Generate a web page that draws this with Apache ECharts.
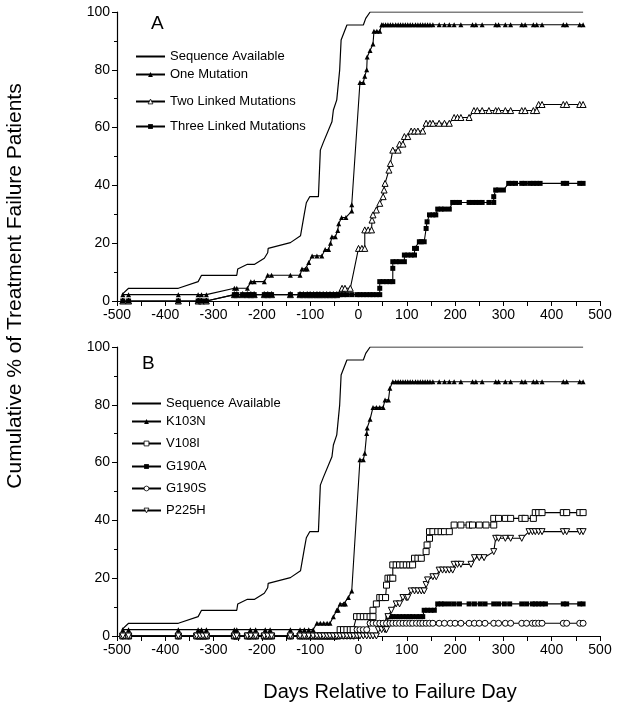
<!DOCTYPE html>
<html>
<head>
<meta charset="utf-8">
<script src="https://cdn.jsdelivr.net/npm/echarts@6/dist/echarts.min.js"></script>
<style>
html,body{margin:0;padding:0;background:#fff;}
#chart{width:618px;height:710px;}
</style>
</head>
<body>
<div id="chart"></div>
<script>
// ---------- DATA ----------
const xTicks = [-500, -400, -300, -200, -100, 0, 100, 200, 300, 400, 500];
const yTicks = [0, 20, 40, 60, 80, 100];

const seqAvail = [[-490,2.2],[-476,4.4],[-373,4.4],[-332,6.7],[-325,8.9],[-252,8.9],[-250,11.1],[-230,12.7],[-215,12.7],[-195,14.8],[-188,16.7],[-187,18.2],[-141,20.2],[-120,22.6],[-112,30.3],[-108,34],[-101,36.1],[-83,36.1],[-79,52.2],[-73,54.8],[-55,62],[-52,66.1],[-45,69.6],[-39,79.9],[-36,90.3],[-24,95.5],[10,95.5],[15,97.8],[24,100],[465,100]];

// Panel A
const oneMutation = [[-488,2.2],[-476,2.2],[-373,2.2],[-332,2.2],[-325,2.2],[-315,2.2],[-257,4.4],[-252,4.4],[-230,4.4],[-223,6.7],[-216,6.7],[-195,6.7],[-188,8.9],[-180,8.9],[-141,8.9],[-121,8.9],[-117,11.1],[-110,11.1],[-106,11.1],[-103,13.3],[-96,15.6],[-86,15.6],[-76,15.6],[-69,17.8],[-62,17.8],[-58,20],[-55,22.2],[-48,22.2],[-43,24.4],[-41,26.7],[-35,28.9],[-26,28.9],[-14,31.1],[-14,33.3],[3,75.6],[10,75.6],[13,77.8],[17,80],[18,84.4],[24,86.7],[30,88.9],[32,93.3],[38,93.3],[44,93.3],[48,95.6],[51,95.6],[56,95.6],[61,95.6],[66,95.6],[71,95.6],[77,95.6],[82,95.6],[87,95.6],[92,95.6],[97,95.6],[102,95.6],[107,95.6],[112,95.6],[118,95.6],[123,95.6],[128,95.6],[133,95.6],[138,95.6],[143,95.6],[148,95.6],[154,95.6],[167,95.6],[178,95.6],[188,95.6],[198,95.6],[212,95.6],[236,95.6],[243,95.6],[256,95.6],[284,95.6],[290,95.6],[304,95.6],[315,95.6],[338,95.6],[345,95.6],[362,95.6],[369,95.6],[380,95.6],[424,95.6],[431,95.6],[458,95.6],[465,95.6]];

const twoLinked = [[-488,0],[-476,0],[-373,0],[-332,0],[-325,0],[-315,0],[-257,2.2],[-252,2.2],[-240,2.2],[-230,2.2],[-223,2.2],[-216,2.2],[-195,2.2],[-188,2.2],[-180,2.2],[-141,2.2],[-121,2.2],[-114,2.2],[-106,2.2],[-100,2.2],[-93,2.2],[-86,2.2],[-80,2.2],[-73,2.2],[-66,2.2],[-59,2.2],[-52,2.2],[-45,2.2],[-34,4.4],[-28,4.4],[-17,4.4],[0,18.2],[7,18.2],[13,18.2],[13,24.6],[20,24.6],[27,24.6],[28,28],[30,29.8],[37,31.5],[44,33.8],[51,36.1],[53,38.4],[55,40.7],[63,45.3],[66,47.6],[71,52.2],[82,52.2],[85,54.3],[92,54.3],[95,56.9],[102,56.9],[109,58.8],[116,58.8],[123,58.8],[133,58.8],[140,61.5],[148,61.5],[154,61.5],[167,61.5],[178,61.5],[188,61.5],[198,63.5],[205,63.5],[212,63.5],[229,63.5],[239,65.9],[246,65.9],[256,65.9],[270,65.9],[284,65.9],[290,65.9],[304,65.9],[315,65.9],[338,65.9],[345,65.9],[362,65.9],[369,65.9],[373,68],[380,68],[424,68],[431,68],[458,68],[465,68]];

const threeLinked = [[-488,0],[-476,0],[-373,0],[-332,0],[-325,0],[-315,0],[-257,2.2],[-252,2.2],[-240,2.2],[-230,2.2],[-223,2.2],[-216,2.2],[-195,2.2],[-188,2.2],[-180,2.2],[-141,2.2],[-121,2.2],[-114,2.2],[-106,2.2],[-100,2.2],[-93,2.2],[-86,2.2],[-80,2.2],[-73,2.2],[-66,2.2],[-59,2.2],[-52,2.2],[-45,2.2],[-38,2.2],[-31,2.2],[-24,2.2],[-14,2.2],[-3,2.2],[3,2.2],[10,2.2],[17,2.2],[24,2.2],[30,2.2],[37,2.2],[44,2.2],[44,4.4],[44,6.7],[51,6.7],[58,6.7],[65,6.7],[71,6.7],[71,11.3],[71,13.6],[78,13.6],[85,13.6],[95,13.6],[95,15.9],[102,15.9],[109,15.9],[116,15.9],[116,18.2],[120,18.2],[126,20.5],[130,20.5],[136,20.5],[140,25.1],[142,27.4],[147,29.8],[154,29.8],[160,29.8],[164,31.8],[171,31.8],[178,31.8],[188,31.8],[195,34.1],[202,34.1],[209,34.1],[229,34.1],[236,34.1],[243,34.1],[250,34.1],[256,34.1],[270,34.1],[280,34.1],[280,36.1],[284,38.4],[290,38.4],[300,38.4],[311,40.7],[318,40.7],[325,40.7],[338,40.7],[345,40.7],[355,40.7],[362,40.7],[369,40.7],[376,40.7],[424,40.7],[431,40.7],[458,40.7],[465,40.7]];

// Panel B
const k103n = [[-488,2.2],[-476,2.2],[-373,2.2],[-332,2.2],[-325,2.2],[-315,2.2],[-257,2.2],[-252,2.2],[-224,2.2],[-213,2.2],[-193,2.2],[-183,2.2],[-141,2.2],[-121,2.2],[-112,2.2],[-103,2.2],[-94,2.2],[-86,4.4],[-79,4.4],[-72,4.4],[-65,4.4],[-59,4.4],[-52,6.7],[-45,8.9],[-42,8.9],[-38,11.1],[-31,11.1],[-27,11.1],[-21,13.3],[-14,15.6],[3,61],[10,61],[13,63.2],[17,70.1],[18,72],[24,75],[30,79.1],[37,79.1],[44,79.1],[51,79.1],[55,81.7],[62,81.7],[65,85.7],[71,88],[77,88],[82,88],[87,88],[92,88],[97,88],[102,88],[107,88],[112,88],[118,88],[123,88],[128,88],[133,88],[138,88],[143,88],[148,88],[154,88],[167,88],[178,88],[188,88],[198,88],[212,88],[236,88],[243,88],[256,88],[284,88],[290,88],[304,88],[315,88],[338,88],[345,88],[362,88],[369,88],[380,88],[424,88],[431,88],[458,88],[465,88]];

const v108i = [[-488,0],[-476,0],[-373,0],[-335,0],[-328,0],[-322,0],[-315,0],[-257,0],[-252,0],[-230,0],[-223,0],[-213,0],[-195,0],[-188,0],[-180,0],[-141,0],[-121,0],[-112,0],[-103,0],[-94,0],[-86,0],[-79,0],[-72,0],[-65,0],[-59,0],[-52,0],[-45,0],[-38,2.2],[-31,2.2],[-24,2.2],[-17,2.2],[-11,2.2],[-4,6.7],[3,6.7],[10,6.7],[17,6.7],[24,6.7],[30,6.7],[30,8.9],[37,11.1],[44,13.3],[49,13.3],[56,13.3],[58,17.6],[61,20],[66,20],[71,20],[71,24.6],[78,24.6],[85,24.6],[92,24.6],[99,24.6],[106,24.6],[112,24.6],[116,26.9],[123,26.9],[130,26.9],[140,29.2],[142,31.5],[147,33.8],[147,36.1],[154,36.1],[164,36.1],[171,36.1],[178,36.1],[188,36.1],[198,38.4],[212,38.4],[229,38.4],[236,38.4],[250,38.4],[264,38.4],[280,38.4],[280,40.7],[290,40.7],[304,40.7],[315,40.7],[338,40.7],[345,40.7],[362,40.7],[366,42.7],[373,42.7],[380,42.7],[424,42.7],[431,42.7],[458,42.7],[465,42.7]];

const g190a = [[-488,0],[-476,0],[-373,0],[-335,0],[-328,0],[-322,0],[-315,0],[-257,0],[-252,0],[-230,0],[-223,0],[-213,0],[-195,0],[-188,0],[-180,0],[-141,0],[-121,0],[-112,0],[-103,0],[-94,0],[-86,0],[-79,0],[-72,0],[-65,0],[-59,0],[-52,0],[-45,0],[-38,0],[-31,0],[-24,0],[-17,0],[-10,0],[-3,2.2],[3,2.2],[10,2.2],[17,2.2],[24,4.4],[30,4.4],[37,4.4],[44,4.4],[51,4.4],[55,4.4],[61,6.7],[66,6.7],[71,6.7],[78,6.7],[85,6.7],[92,6.7],[99,6.7],[106,6.7],[112,6.7],[120,6.7],[127,6.7],[133,6.7],[136,8.9],[143,8.9],[150,8.9],[157,8.9],[164,11.1],[171,11.1],[178,11.1],[188,11.1],[198,11.1],[209,11.1],[229,11.1],[240,11.1],[252,11.1],[262,11.1],[280,11.1],[290,11.1],[302,11.1],[313,11.1],[338,11.1],[348,11.1],[360,11.1],[366,11.1],[373,11.1],[380,11.1],[387,11.1],[424,11.1],[431,11.1],[458,11.1],[465,11.1]];

const g190s = [[-488,0],[-476,0],[-373,0],[-335,0],[-328,0],[-322,0],[-315,0],[-257,0],[-252,0],[-230,0],[-223,0],[-213,0],[-195,0],[-188,0],[-180,0],[-141,0],[-121,0],[-112,0],[-103,0],[-94,0],[-86,0],[-79,0],[-72,0],[-65,0],[-59,0],[-52,0],[-45,0],[-38,0],[-31,0],[-24,0],[-17,0],[-10,0],[-3,2.2],[3,2.2],[10,2.2],[17,2.2],[24,4.4],[30,4.4],[37,4.4],[44,4.4],[51,4.4],[58,4.4],[65,4.4],[71,4.4],[78,4.4],[85,4.4],[92,4.4],[99,4.4],[106,4.4],[112,4.4],[120,4.4],[127,4.4],[133,4.4],[140,4.4],[147,4.4],[154,4.4],[167,4.4],[178,4.4],[190,4.4],[200,4.4],[212,4.4],[229,4.4],[240,4.4],[250,4.4],[262,4.4],[280,4.4],[290,4.4],[304,4.4],[315,4.4],[338,4.4],[348,4.4],[360,4.4],[366,4.4],[373,4.4],[380,4.4],[424,4.4],[431,4.4],[458,4.4],[465,4.4]];

const p225h = [[-488,0],[-476,0],[-373,0],[-335,0],[-328,0],[-322,0],[-315,0],[-257,0],[-252,0],[-230,0],[-223,0],[-213,0],[-195,0],[-188,0],[-180,0],[-141,0],[-121,0],[-112,0],[-103,0],[-94,0],[-86,0],[-79,0],[-72,0],[-65,0],[-59,0],[-52,0],[-45,0],[-38,0],[-31,0],[-24,0],[-17,0],[-10,0],[-3,0],[3,0],[10,0],[17,0],[24,0],[30,0],[37,0],[41,2.2],[48,2.2],[55,2.2],[58,2.2],[61,6.7],[68,8.9],[78,11.1],[85,11.1],[92,13.3],[99,13.3],[102,13.3],[109,15.6],[116,15.6],[123,15.6],[130,15.6],[136,15.6],[140,17.8],[143,19.4],[154,20.5],[161,20.5],[167,22.8],[174,22.8],[181,22.8],[188,22.8],[195,22.8],[198,24.8],[205,24.8],[212,24.8],[233,24.8],[240,27.1],[250,27.1],[260,27.1],[280,29.2],[284,33.8],[290,33.8],[304,33.8],[315,33.8],[338,33.8],[353,36.1],[360,36.1],[366,36.1],[373,36.1],[380,36.1],[424,36.1],[431,36.1],[458,36.1],[465,36.1]];

const legendA = ['Sequence Available', 'One Mutation', 'Two Linked Mutations', 'Three Linked Mutations'];
const legendB = ['Sequence Available', 'K103N', 'V108I', 'G190A', 'G190S', 'P225H'];

// ---------- CHART ----------
const FONT = '"Liberation Sans", Arial, Helvetica, sans-serif';
const BLACK = '#000';

function xAxisFor(i) {
  return {
    type: 'value', gridIndex: i, min: xTicks[0], max: xTicks[xTicks.length - 1], interval: 100,
    axisLine: { show: true, onZero: false, lineStyle: { color: BLACK, width: 1.2 } },
    axisTick: { show: true, length: 5, lineStyle: { color: BLACK, width: 1 } },
    minorTick: { show: true, splitNumber: 2, length: 5, lineStyle: { color: BLACK, width: 1 } },
    splitLine: { show: false },
    axisLabel: { color: BLACK, fontSize: 14, fontFamily: FONT, margin: 7 }
  };
}
function yAxisFor(i) {
  return {
    type: 'value', gridIndex: i, min: yTicks[0], max: yTicks[yTicks.length - 1], interval: 20,
    axisLine: { show: true, onZero: false, lineStyle: { color: BLACK, width: 1.2 } },
    axisTick: { show: true, length: 5, lineStyle: { color: BLACK, width: 1 } },
    minorTick: { show: true, splitNumber: 2, length: 3, lineStyle: { color: BLACK, width: 1 } },
    splitLine: { show: false },
    axisLabel: { color: BLACK, fontSize: 14, fontFamily: FONT, margin: 7 }
  };
}

const filled = { color: BLACK, borderColor: BLACK, borderWidth: 0 };
const open = { color: '#fff', borderColor: BLACK, borderWidth: 1 };
const INV_TRI = 'path://M0,0L10,0L5,9Z';

function mk(name, data, panel, symbol, size, itemStyle, extra) {
  return Object.assign({
    name: name, type: 'line', data: data,
    xAxisIndex: panel, yAxisIndex: panel,
    symbol: symbol, symbolSize: size, showAllSymbol: true,
    lineStyle: { color: BLACK, width: 1.1 },
    itemStyle: itemStyle,
    emphasis: { disabled: true },
    silent: true, z: 3
  }, extra || {});
}

const series = [
  mk('Sequence Available', seqAvail, 0, 'none', 0, filled, { lineStyle: { color: BLACK, width: 1.2 } }),
  mk('One Mutation', oneMutation, 0, 'triangle', 5, filled),
  mk('Two Linked Mutations', twoLinked, 0, 'triangle', 6, open),
  mk('Three Linked Mutations', threeLinked, 0, 'rect', 5, filled),
  mk('Sequence Available', seqAvail, 1, 'none', 0, filled, { lineStyle: { color: BLACK, width: 1.2 } }),
  mk('K103N', k103n, 1, 'triangle', 5, filled),
  mk('V108I', v108i, 1, 'rect', 6, open),
  mk('G190A', g190a, 1, 'rect', 5, filled),
  mk('G190S', g190s, 1, 'circle', 6, open),
  mk('P225H', p225h, 1, INV_TRI, 6, open)
];

const openNames = ['Two Linked Mutations', 'V108I', 'G190S', 'P225H'];
const legendPosA = [57, 75, 102, 127];
const legendPosB = [404, 422, 444, 467, 489, 511];
function legendItem(n) {
  if (n === 'Sequence Available') {
    return { name: n, itemStyle: { opacity: 0, color: 'rgba(0,0,0,0)', borderColor: 'rgba(0,0,0,0)', borderWidth: 0 } };
  }
  if (openNames.indexOf(n) >= 0) {
    return { name: n, itemStyle: { color: '#fff', borderColor: BLACK, borderWidth: 0.8 } };
  }
  return { name: n, itemStyle: { color: BLACK, borderColor: BLACK, borderWidth: 0 } };
}
const legends = [];
legendA.forEach((n, i) => legends.push({
  data: [legendItem(n)], left: 135, top: legendPosA[i] - 7, padding: 0, itemWidth: 29, itemHeight: 6,
  selectedMode: false, textStyle: { color: BLACK, fontSize: 13, fontFamily: FONT }
}));
legendB.forEach((n, i) => legends.push({
  data: [legendItem(n)], left: 131, top: legendPosB[i] - 7, padding: 0, itemWidth: 29, itemHeight: 6,
  selectedMode: false, textStyle: { color: BLACK, fontSize: 13, fontFamily: FONT }
}));

const chart = echarts.init(document.getElementById('chart'), null, { renderer: 'canvas' });
chart.setOption({
  animation: false,
  backgroundColor: '#fff',
  grid: [
    { left: 117, top: 12, width: 483, height: 289 },
    { left: 117, top: 347, width: 483, height: 289 }
  ],
  xAxis: [xAxisFor(0), xAxisFor(1)],
  yAxis: [yAxisFor(0), yAxisFor(1)],
  legend: legends,
  series: series,
  graphic: [
    { type: 'text', left: 151, top: 14, style: { text: 'A', fontSize: 19, fontFamily: FONT, fill: BLACK } },
    { type: 'text', left: 142, top: 354, style: { text: 'B', fontSize: 19, fontFamily: FONT, fill: BLACK } },
    { type: 'text', x: 15, y: 286, rotation: Math.PI / 2,
      style: { text: 'Cumulative % of Treatment Failure Patients', fontSize: 21, fontFamily: FONT, fill: BLACK, textAlign: 'center', textVerticalAlign: 'middle' } },
    { type: 'text', x: 390, y: 692,
      style: { text: 'Days Relative to Failure Day', fontSize: 20, fontFamily: FONT, fill: BLACK, textAlign: 'center', textVerticalAlign: 'middle' } }
  ]
});
</script>
</body>
</html>
